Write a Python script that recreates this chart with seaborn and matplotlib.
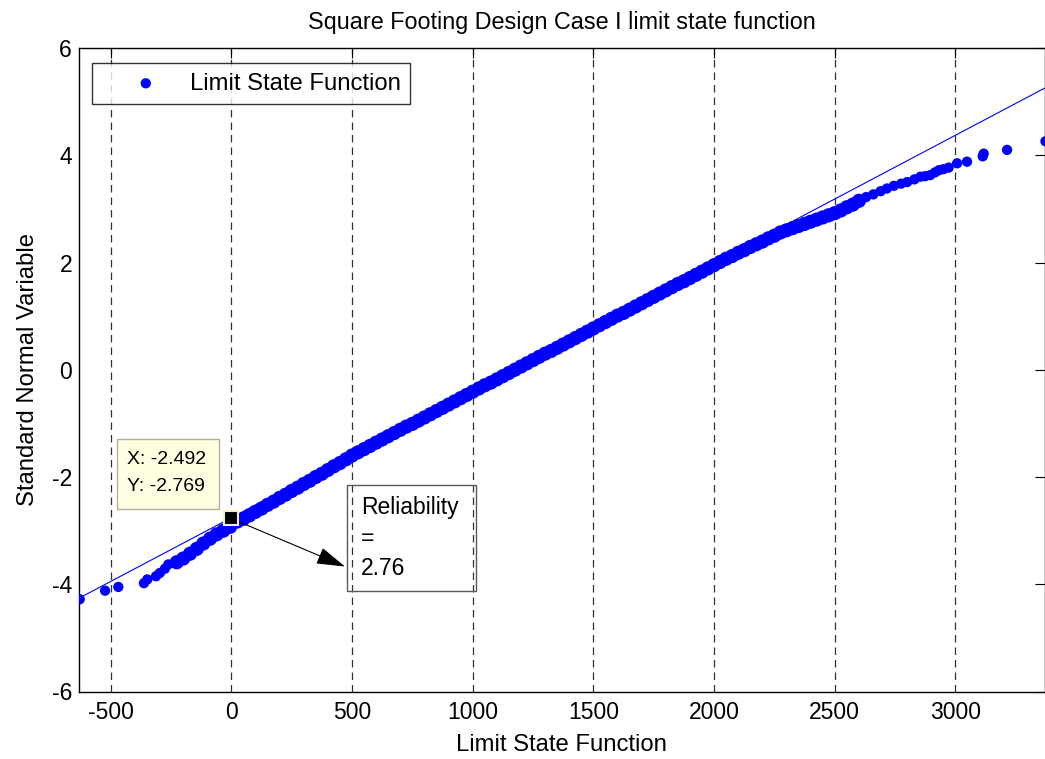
import numpy as np
import pandas as pd
import seaborn as sns
import matplotlib.pyplot as plt
from matplotlib.patches import Rectangle

# limit state function samples (x) vs standard normal quantile (y)
lsf_x = [-628, -523, -468, -362, -348, -312, -296, -275, -261, -226, -199, -171,
         -143, -116, -88, -61, -33, -5, 25, 50, 75, 100, 125, 150, 175, 200, 225,
         250, 275, 300, 325, 350, 375, 400, 425, 450, 475, 500, 525, 550, 575, 600,
         625, 650, 675, 700, 725, 750, 775, 800, 825, 850, 875, 900, 925, 950, 975,
         1000, 1025, 1050, 1075, 1100, 1125, 1150, 1175, 1200, 1225, 1250, 1275,
         1300, 1325, 1350, 1375, 1400, 1425, 1450, 1475, 1500, 1525, 1550, 1575,
         1600, 1625, 1650, 1675, 1700, 1725, 1750, 1775, 1800, 1825, 1850, 1875,
         1900, 1925, 1950, 1975, 2000, 2025, 2050, 2075, 2100, 2125, 2150, 2175,
         2200, 2225, 2250, 2275, 2300, 2325, 2350, 2375, 2400, 2425, 2450, 2475,
         2500, 2525, 2550, 2575, 2600, 2630, 2660, 2690, 2716, 2745, 2775, 2800,
         2830, 2855, 2875, 2896, 2915, 2931, 2950, 2972, 3007, 3048, 3113, 3117,
         3214, 3373]
snv_y = [-4.28, -4.12, -4.05, -3.98, -3.91, -3.85, -3.79, -3.71, -3.63, -3.59, -3.52,
         -3.43, -3.34, -3.24, -3.15, -3.07, -3.00, -2.93, -2.83, -2.78, -2.715, -2.65,
         -2.59, -2.52, -2.46, -2.39, -2.33, -2.26, -2.20, -2.13, -2.07, -2.00, -1.94,
         -1.87, -1.80, -1.74, -1.67, -1.60, -1.54, -1.48, -1.42, -1.36, -1.30, -1.24,
         -1.18, -1.12, -1.06, -1.01, -0.95, -0.89, -0.83, -0.77, -0.71, -0.65, -0.59,
         -0.53, -0.47, -0.41, -0.35, -0.29, -0.24, -0.18, -0.12, -0.06, 0.00, 0.06,
         0.12, 0.18, 0.24, 0.30, 0.35, 0.41, 0.47, 0.53, 0.59, 0.65, 0.71, 0.77, 0.83,
         0.89, 0.95, 1.01, 1.06, 1.12, 1.18, 1.24, 1.30, 1.36, 1.42, 1.48, 1.54, 1.60,
         1.65, 1.71, 1.77, 1.83, 1.89, 1.95, 2.01, 2.07, 2.12, 2.18, 2.23, 2.29, 2.34,
         2.39, 2.45, 2.50, 2.56, 2.60, 2.64, 2.68, 2.72, 2.76, 2.80, 2.84, 2.88, 2.92,
         2.97, 3.03, 3.08, 3.15, 3.22, 3.27, 3.33, 3.38, 3.43, 3.47, 3.50, 3.55, 3.60,
         3.61, 3.63, 3.68, 3.72, 3.74, 3.77, 3.85, 3.88, 3.98, 4.03, 4.10, 4.26]

# fitted normal reference line (end points)
ref_x = [-631, 3369]
ref_y = [-4.26, 5.25]

# data tip
tip_x, tip_y = -2.492, -2.769

x_ticks = [-500, 0, 500, 1000, 1500, 2000, 2500, 3000]
y_ticks = [-6, -4, -2, 0, 2, 4, 6]

sns.set_theme(style='white')
plt.rcParams['font.family'] = ['Liberation Sans', 'DejaVu Sans']
plt.rcParams['axes.unicode_minus'] = False
plt.rcParams['text.color'] = 'black'
plt.rcParams['axes.labelcolor'] = 'black'

fig = plt.figure(figsize=(10.45, 7.59), dpi=100)
ax = fig.add_axes([79 / 1045, 1 - 691.5 / 759, (1044.5 - 79) / 1045, (691.5 - 48) / 759])

df = pd.DataFrame({'x': lsf_x, 'y': snv_y})
ref = pd.DataFrame({'x': ref_x, 'y': ref_y})
# the middle of the curve is a dense band of overlapping samples
dense = (df['x'] > -240) & (df['x'] < 2620)

for xt in x_ticks:
    ax.axvline(xt, color='0.2', lw=0.9, ls=(0, (6, 4)), zorder=0)

sns.lineplot(data=ref, x='x', y='y', ax=ax, color='#0000FF', lw=0.8, zorder=2)
sns.scatterplot(data=df[~dense], x='x', y='y', ax=ax, color='#0000FF', s=55,
                edgecolor='none', label='Limit State Function', zorder=3)
sns.scatterplot(data=df[dense], x='x', y='y', ax=ax, color='#0000FF', s=105,
                edgecolor='none', zorder=3)

ax.set_xlim(-631, 3369)
ax.set_ylim(-6, 6)
ax.set_xticks(x_ticks)
ax.set_yticks(y_ticks)
ax.tick_params(direction='in', top=True, right=True, length=7, width=0.8,
               labelsize=16.5, colors='black')
ax.tick_params(axis='x', pad=7)
ax.tick_params(axis='y', pad=5)
for sp in ax.spines.values():
    sp.set_color('black')
    sp.set_linewidth(1.0)

ax.set_title('Square Footing Design Case I limit state function', fontsize=16.8, pad=14)
ax.set_xlabel('Limit State Function', fontsize=17.2, labelpad=7)
ax.set_ylabel('Standard Normal Variable', fontsize=17.2, labelpad=9)

leg = ax.legend(loc='upper left', bbox_to_anchor=(0.0135, 0.9767), fontsize=17.2,
                frameon=True, fancybox=False, edgecolor='black', handlelength=3.7,
                handletextpad=0.0, borderpad=0.4, borderaxespad=0)
leg.get_frame().set_linewidth(1.0)

# data tip box
ax.add_patch(Rectangle((-473, -2.59), 422, 1.306, facecolor='#FFFFE1',
                       edgecolor='#b0b0a0', lw=1, zorder=4))
ax.text(-432, -1.93, 'X: -2.492\nY: -2.769', fontsize=14, ha='left', va='center',
        linespacing=1.75, zorder=5)
ax.plot([tip_x], [tip_y], marker='s', markersize=10.5, mfc='black', mec='#f3efc8',
        mew=1.5, ls='none', zorder=6)

# reliability annotation
ax.annotate('', xy=(471, -3.67), xytext=(tip_x, tip_y),
            arrowprops=dict(arrowstyle='-|>,head_length=1.0,head_width=0.3',
                            mutation_scale=18, color='black', lw=0.8, shrinkA=7, shrinkB=0),
            zorder=5)
ax.add_patch(Rectangle((480, -4.13), 534, 1.99, facecolor='none', edgecolor='0.35',
                       lw=1, zorder=4))
ax.text(538, -3.14, 'Reliability\n=\n2.76', fontsize=16.5, ha='left', va='center',
        linespacing=1.4, zorder=5)

fig.savefig('out.png', dpi=100)
